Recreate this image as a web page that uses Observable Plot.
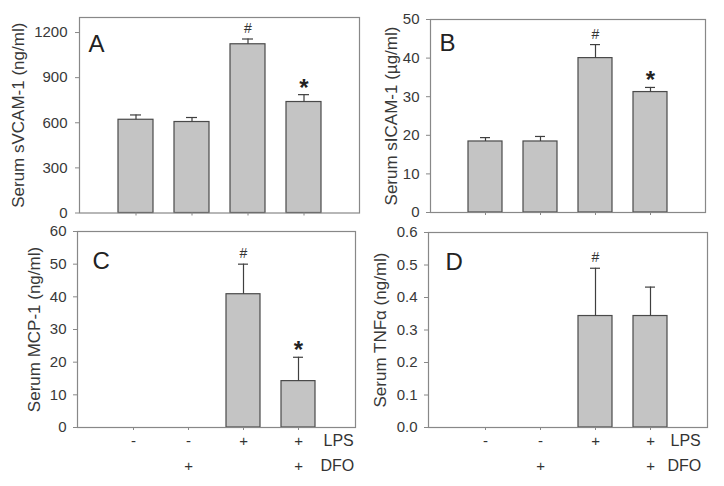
<!DOCTYPE html>
<html><head><meta charset="utf-8">
<script src="https://cdn.jsdelivr.net/npm/d3@7"></script>
<script src="https://cdn.jsdelivr.net/npm/@observablehq/plot@0.6"></script>
<style>
body{margin:0;background:#fff;}
#fig{position:relative;width:724px;height:486px;overflow:hidden;background:#fff;}
#fig > svg{position:absolute;}
</style></head><body><div id="fig"></div>
<script>
// categories (treatment groups)
const groups = ["g1", "g2", "g3", "g4"];
const lpsLabels = ["-", "-", "+", "+"];
const dfoLabels = ["", "+", "", "+"];
const rowNames = ["LPS", "DFO"];

// A: serum sVCAM-1 (ng/ml)
const vcamMean = [620, 605, 1122, 738];
const vcamSem = [32, 30, 35, 49];
const vcamSig = ["", "", "#", "*"];
const vcamTicks = [0, 300, 600, 900, 1200];
// B: serum sICAM-1 (µg/ml)
const icamMean = [18.4, 18.4, 40.0, 31.2];
const icamSem = [1.0, 1.3, 3.5, 1.2];
const icamSig = ["", "", "#", "*"];
const icamTicks = [0, 10, 20, 30, 40, 50];
// C: serum MCP-1 (ng/ml)
const mcpMean = [null, null, 40.8, 14.2];
const mcpSem = [null, null, 9.2, 7.3];
const mcpSig = ["", "", "#", "*"];
const mcpTicks = [0, 10, 20, 30, 40, 50, 60];
// D: serum TNFα (ng/ml)
const tnfMean = [null, null, 0.343, 0.343];
const tnfSem = [null, null, 0.147, 0.089];
const tnfSig = ["", "", "#", ""];
const tnfTicks = [0, 0.1, 0.2, 0.3, 0.4, 0.5, 0.6];

const FONT = '"Liberation Sans", Arial, sans-serif';
const fig = document.getElementById("fig");

function panel(o) {
  const rows = groups.map((g, i) => ({
    g, mean: o.mean[i], hi: o.mean[i] == null ? null : o.mean[i] + o.sem[i],
    sig: o.sig[i], lps: lpsLabels[i], dfo: dfoLabels[i]
  }));
  const vals = rows.filter(d => d.mean != null);
  const marks = [
    Plot.barY(vals, {x: "g", y: "mean", fill: "#c4c4c4", stroke: "#4a4a4a", strokeWidth: 1.2}),
    Plot.ruleX(vals, {x: "g", y1: "mean", y2: "hi", stroke: "#3f3f3f", strokeWidth: 1.2}),
    Plot.tickY(vals, {x: "g", y: "hi", stroke: "#3f3f3f", strokeWidth: 1.2, insetLeft: 12, insetRight: 12}),
    Plot.text(vals.filter(d => d.sig === "#"), {x: "g", y: "hi", text: "sig", lineAnchor: "bottom", dy: -6, fontSize: 14, fill: "#333"}),
    Plot.text(vals.filter(d => d.sig === "*"), {x: "g", y: "hi", text: "sig", lineAnchor: "bottom", dy: 1, fontSize: 24, fontWeight: "bold", fill: "#222"}),
    Plot.frame({stroke: "#888", strokeWidth: 1.2}),
    Plot.axisY({ticks: o.ticks, tickSize: 4, tickPadding: o.tickPadding ?? 7, tickFormat: o.fmt, fontSize: 15, label: null, stroke: "#888", fill: "#383838"}),
    Plot.axisX({tickSize: 3, tickFormat: () => "", label: null, stroke: "#888"}),
    Plot.text([o.letter], {text: d => d, frameAnchor: "top-left", textAnchor: "start", lineAnchor: "top", dx: o.letterDx, dy: o.letterDy, fontSize: 24, fill: "#222"}),
    Plot.text([o.ylabel], {text: d => d, frameAnchor: "left", textAnchor: "middle", lineAnchor: "middle", rotate: -90, dx: o.labelDx, fontSize: 17, fill: "#383838"})
  ];
  if (o.rows) {
    marks.push(
      Plot.text(rows, {x: "g", text: "lps", frameAnchor: "bottom", dy: 18.5, fontSize: 15, fill: "#333"}),
      Plot.text(rows, {x: "g", text: "dfo", frameAnchor: "bottom", dy: 43.5, fontSize: 15, fill: "#333"}),
      Plot.text([{g: "g4", t: rowNames[0]}], {x: "g", text: "t", frameAnchor: "bottom", textAnchor: "start", dx: o.rowDx, dy: 18.5, fontSize: 16, fill: "#333"}),
      Plot.text([{g: "g4", t: rowNames[1]}], {x: "g", text: "t", frameAnchor: "bottom", textAnchor: "start", dx: o.rowDx - 3, dy: 43.5, fontSize: 16, fill: "#333"})
    );
  }
  const svg = Plot.plot({
    width: o.width, height: o.height,
    marginLeft: o.ml, marginRight: o.mr, marginTop: o.mt, marginBottom: o.mb,
    style: {background: "transparent", overflow: "visible", fontFamily: FONT, color: "#444"},
    x: {type: "band", domain: groups, paddingInner: 0.375, paddingOuter: 0.6875},
    y: {domain: o.domain},
    marks
  });
  svg.style.left = o.left + "px";
  svg.style.top = o.top + "px";
  fig.appendChild(svg);
}

panel({letter: "A", ylabel: "Serum sVCAM-1 (ng/ml)", mean: vcamMean, sem: vcamSem, sig: vcamSig,
  ticks: vcamTicks, domain: [0, 1300], fmt: d3.format("d"), tickPadding: 8,
  left: 0, top: 0, width: 362, height: 222, ml: 79, mr: 3, mt: 17, mb: 9.5,
  letterDx: 9, letterDy: 17, labelDx: -61});
panel({letter: "B", ylabel: "Serum sICAM-1 (\u00b5g/ml)", mean: icamMean, sem: icamSem, sig: icamSig,
  ticks: icamTicks, domain: [0, 50], fmt: d3.format("d"),
  left: 362, top: 0, width: 362, height: 222, ml: 68, mr: 19, mt: 19, mb: 10,
  letterDx: 9, letterDy: 14, labelDx: -39});
panel({letter: "C", ylabel: "Serum MCP-1 (ng/ml)", mean: mcpMean, sem: mcpSem, sig: mcpSig,
  ticks: mcpTicks, domain: [0, 60], fmt: d3.format("d"),
  left: 0, top: 222, width: 362, height: 264, ml: 77, mr: 7, mt: 9, mb: 59,
  letterDx: 15, letterDy: 20, labelDx: -43, rows: true, rowDx: 25});
panel({letter: "D", ylabel: "Serum TNF\u03b1 (ng/ml)", mean: tnfMean, sem: tnfSem, sig: tnfSig,
  ticks: tnfTicks, domain: [0, 0.6], fmt: d3.format(".1f"),
  left: 362, top: 222, width: 362, height: 264, ml: 66, mr: 17, mt: 10, mb: 59,
  letterDx: 17, letterDy: 20, labelDx: -48, rows: true, rowDx: 20});
</script>
</body></html>
